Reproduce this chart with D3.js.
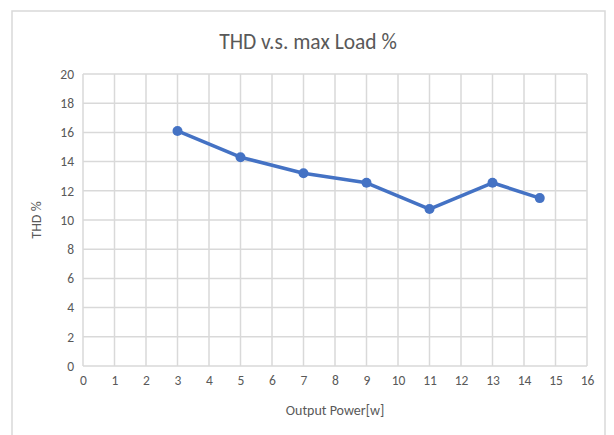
<!DOCTYPE html>
<html>
<head>
<meta charset="utf-8">
<script src="https://cdn.jsdelivr.net/npm/d3@7"></script>
<style>
  body { margin: 0; background: #fff; }
  text { font-family: Carlito, Calibri, "Liberation Sans", sans-serif; fill: #595959; }
</style>
</head>
<body>
<svg id="chart" width="614" height="435"></svg>
<script>
// data
var powerW = [3, 5, 7, 9, 11, 13, 14.5];
var thdPct = [16.1, 14.3, 13.2, 12.55, 10.75, 12.55, 11.5];
var xTicks = d3.range(0, 17, 1);
var yTicks = d3.range(0, 21, 2);

var svg = d3.select("#chart");
var plot = { left: 83, top: 74, right: 587, bottom: 366 };

// chart frame
svg.append("rect")
    .attr("x", 12).attr("y", 11)
    .attr("width", 593).attr("height", 430)
    .attr("fill", "#fff")
    .attr("stroke", "#d9d9d9")
    .attr("stroke-width", 1.5);

var x = d3.scaleLinear().domain([0, 16]).range([plot.left, plot.right]);
var y = d3.scaleLinear().domain([0, 20]).range([plot.bottom, plot.top]);

// grid
var grid = svg.append("g").attr("class", "grid");
grid.selectAll(".gx").data(xTicks).enter().append("line")
    .attr("x1", function (d) { return x(d); })
    .attr("x2", function (d) { return x(d); })
    .attr("y1", plot.top).attr("y2", plot.bottom)
    .attr("stroke", "#d9d9d9").attr("stroke-width", 1.5);
grid.selectAll(".gy").data(yTicks).enter().append("line")
    .attr("y1", function (d) { return y(d); })
    .attr("y2", function (d) { return y(d); })
    .attr("x1", plot.left).attr("x2", plot.right)
    .attr("stroke", "#d9d9d9").attr("stroke-width", 1.5);

// axes (labels only, lines come from the grid)
var xAxis = svg.append("g")
    .attr("transform", "translate(0," + plot.bottom + ")")
    .call(d3.axisBottom(x).tickValues(xTicks).tickSize(0).tickPadding(9));
var yAxis = svg.append("g")
    .attr("transform", "translate(" + plot.left + ",0)")
    .call(d3.axisLeft(y).tickValues(yTicks).tickSize(0).tickPadding(9));
[xAxis, yAxis].forEach(function (a) {
    a.select(".domain").remove();
    a.selectAll("text")
        .style("font-family", "Carlito, Calibri, 'Liberation Sans', sans-serif")
        .style("font-size", "13.5px")
        .attr("fill", "#595959");
});

// series
var pts = powerW.map(function (p, i) { return [p, thdPct[i]]; });
svg.append("path")
    .datum(pts)
    .attr("fill", "none")
    .attr("stroke", "#4472c4")
    .attr("stroke-width", 3.5)
    .attr("stroke-linejoin", "round")
    .attr("d", d3.line()
        .x(function (d) { return x(d[0]); })
        .y(function (d) { return y(d[1]); }));
svg.selectAll(".pt").data(pts).enter().append("circle")
    .attr("cx", function (d) { return x(d[0]); })
    .attr("cy", function (d) { return y(d[1]); })
    .attr("r", 5)
    .attr("fill", "#4472c4");

// titles
svg.append("text")
    .attr("x", 308).attr("y", 49)
    .attr("text-anchor", "middle")
    .style("font-size", "21.5px")
    .text("THD v.s. max Load %");
svg.append("text")
    .attr("x", (plot.left + plot.right) / 2).attr("y", 415)
    .attr("text-anchor", "middle")
    .style("font-size", "14px")
    .text("Output Power[w]");
svg.append("text")
    .attr("transform", "translate(41," + (plot.top + plot.bottom) / 2 + ") rotate(-90)")
    .attr("text-anchor", "middle")
    .style("font-size", "14px")
    .text("THD %");
</script>
</body>
</html>
